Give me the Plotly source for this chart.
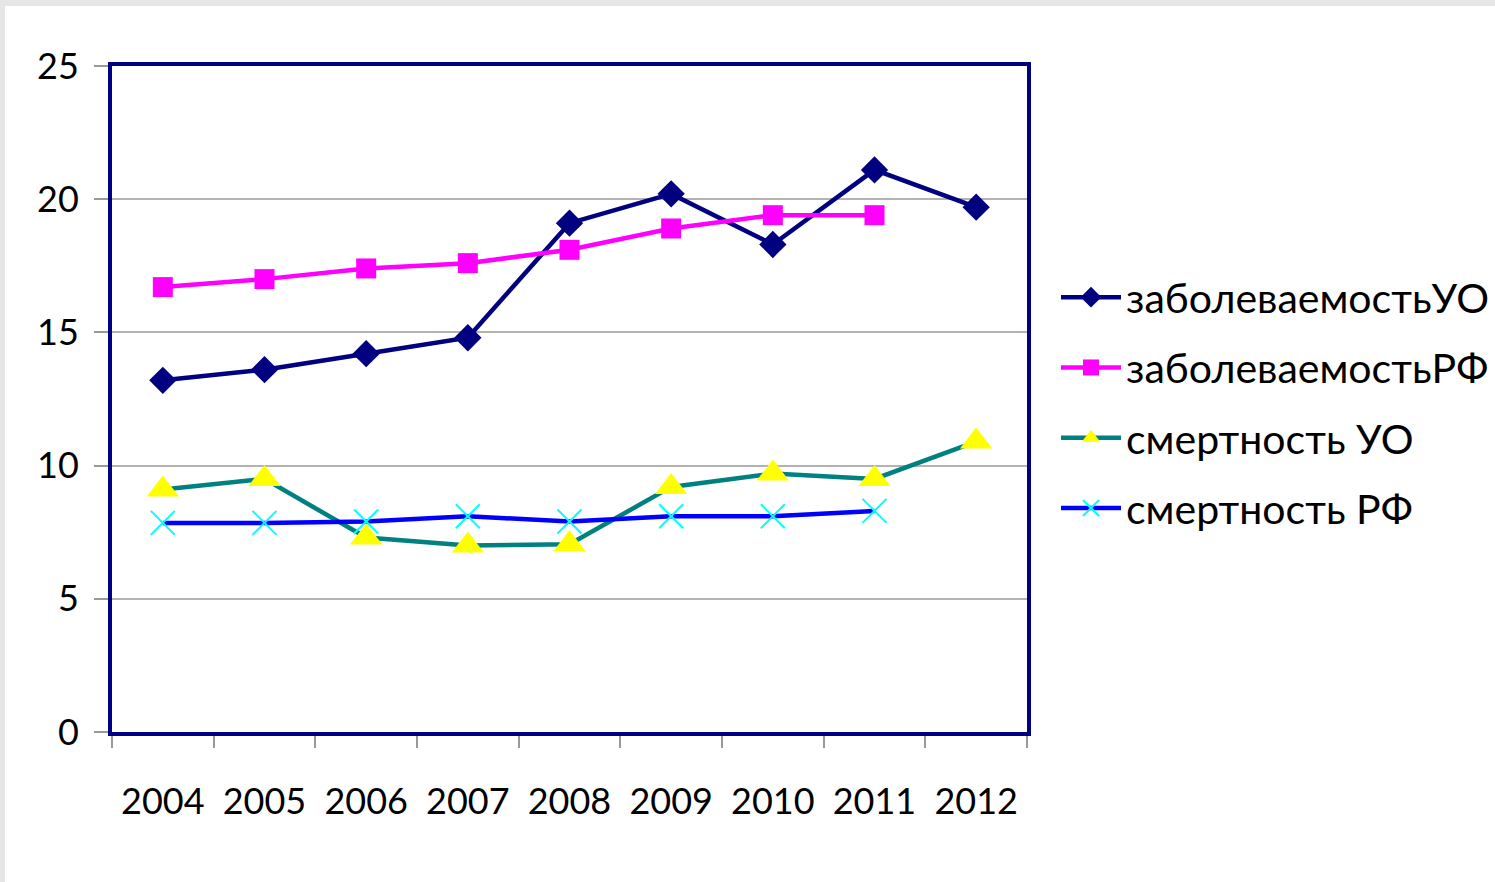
import plotly.graph_objects as go

years = ["2004", "2005", "2006", "2007", "2008", "2009", "2010", "2011", "2012"]
zab_uo = [13.2, 13.6, 14.2, 14.8, 19.1, 20.2, 18.3, 21.1, 19.7]
zab_rf = [16.7, 17.0, 17.4, 17.6, 18.1, 18.9, 19.4, 19.4, None]
smert_uo = [9.1, 9.5, 7.3, 7.0, 7.05, 9.2, 9.7, 9.5, 10.9]
smert_rf = [7.85, 7.85, 7.9, 8.1, 7.9, 8.1, 8.1, 8.3, None]

names = ["заболеваемостьУО", "заболеваемостьРФ", "смертность УО", "смертность РФ"]

FONT = "Lato"

fig = go.Figure()
fig.add_trace(go.Scatter(x=years, y=zab_uo, name=names[0], mode="lines+markers",
                         line=dict(color="#000080", width=4.5),
                         marker=dict(symbol="diamond", size=21, color="#000080"),
                         legendgroup="a"))
fig.add_trace(go.Scatter(x=years, y=zab_rf, name=names[1], mode="lines+markers",
                         line=dict(color="#FF00FF", width=4.5),
                         marker=dict(symbol="square", size=20, color="#FF00FF"),
                         legendgroup="b"))
fig.add_trace(go.Scatter(x=years, y=smert_uo, name=names[2], mode="lines+markers",
                         line=dict(color="#008080", width=4.5),
                         marker=dict(symbol="triangle-up", size=28, color="#FFFF00"),
                         legendgroup="c"))
fig.add_trace(go.Scatter(x=years, y=smert_rf, name=names[3], mode="lines+markers",
                         line=dict(color="#0000FF", width=4.5),
                         marker=dict(symbol="x-thin", size=24, color="#00FFFF",
                                     line=dict(color="#00FFFF", width=2)),
                         legendgroup="d"))

# page border (light gray strip at top/left)
fig.add_shape(type="rect", xref="paper", yref="paper", layer="below",
              x0=(5 - 112) / 915, x1=(1500 - 112) / 915,
              y0=(732 - 890) / 666, y1=(732 - 6) / 666,
              fillcolor="white", line=dict(width=0))

fig.update_layout(
    width=1495, height=882,
    margin=dict(l=112, r=468, t=66, b=150, autoexpand=False),
    paper_bgcolor="#e6e6e6",
    plot_bgcolor="white",
    font=dict(family=FONT, size=36, color="black"),
    showlegend=True,
    legend=dict(x=(1056 - 112) / 915, xanchor="left", y=(732 - 403) / 666, yanchor="middle",
                traceorder="grouped", tracegroupgap=14, font=dict(size=41, family=FONT),
                bgcolor="rgba(0,0,0,0)", itemwidth=60),
    xaxis=dict(type="category", range=[-0.5, 8.5], tickson="boundaries", ticks="outside",
               ticklen=12, tickcolor="#999999", tickwidth=1.5, showgrid=False,
               showline=True, mirror=True, linecolor="#000080", linewidth=4,
               tickfont=dict(size=36, family=FONT), ticklabelstandoff=35),
    yaxis=dict(range=[0, 25], dtick=5, ticks="outside", ticklen=14, tickcolor="#999999",
               tickwidth=1.5, showgrid=True, gridcolor="#b3b3b3", gridwidth=1.5,
               showline=True, mirror=True, linecolor="#000080", linewidth=4,
               zeroline=False, tickfont=dict(size=36, family=FONT), ticklabelstandoff=8),
)

fig.write_html("out.html", post_script="document.body.style.margin='0';",
               config={"displayModeBar": False})
